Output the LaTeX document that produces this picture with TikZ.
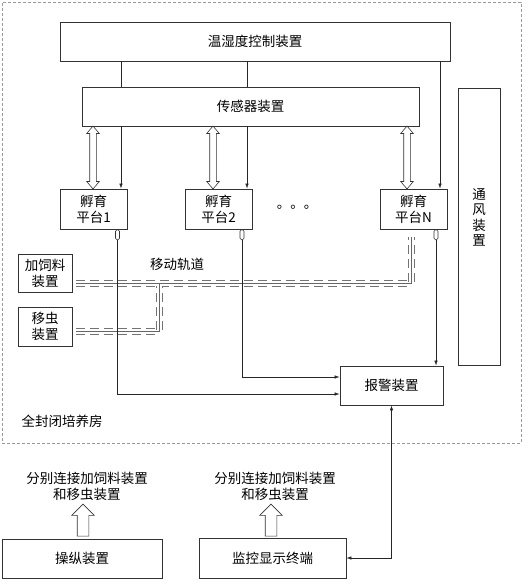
\documentclass[tikz,border=0pt]{standalone}
\usepackage{fontspec}
\newfontfamily\cjk{Noto Sans CJK SC}
\usetikzlibrary{shapes.arrows,arrows.meta,calc}
\begin{document}
\begin{tikzpicture}[x=1pt,y=-1pt,
  font=\cjk\fontsize{13.5pt}{16pt}\selectfont,
  box/.style={draw=black!80, line width=0.8pt, inner sep=0pt, align=center},
  conn/.style={draw=black!85, line width=0.6pt},
  tip/.style={-{Latex[length=5pt,width=3.5pt]}},
  stub/.style={draw=black!80, line width=0.6pt, minimum width=4pt, minimum height=10pt, inner sep=0pt, rounded corners=1.5pt},
  darrow/.style={shape=double arrow, draw=black!80, line width=0.6pt, rotate=90, inner xsep=0pt, inner ysep=3pt,
    double arrow head extend=3pt, double arrow tip angle=80, minimum height=63pt},
  uarrow/.style={shape=single arrow, draw=black!80, line width=0.6pt, rotate=90, inner xsep=0pt, inner ysep=5.5pt,
    single arrow head extend=5.5pt, single arrow tip angle=90, minimum height=32pt},
  trackrails/.style={draw=black!55, line width=1pt, dash pattern=on 9pt off 5pt, double=white, double distance=5pt},
  trackcore/.style={draw=black!60, line width=0.5pt},
  room/.style={draw=gray!80, line width=0.6pt, dash pattern=on 3pt off 2pt, inner sep=0pt}
]
\useasboundingbox (0,0) rectangle (529,581);

% enclosure
\node[room, minimum width=519pt, minimum height=441pt] (enc) at (261.5,222.5) {};
\node (enclabel) at (62,421) {全封闭培养房};

% main boxes
\node[box, minimum width=390pt, minimum height=39pt] (temp) at (255,41.5) {温湿度控制装置};
\node[box, minimum width=337pt, minimum height=39pt] (sensor) at (250.5,106.5) {传感器装置};
\node[box, minimum width=42pt, minimum height=277pt] (vent) at (479,226.5) {};
\node[align=center, inner sep=0pt, font=\cjk\fontsize{13.5pt}{15.5pt}\selectfont] (ventlabel) at ([yshift=9pt]vent.center) {通\\风\\装\\置};

\node[box, minimum width=67pt, minimum height=40pt] (p1) at (93.5,209) {孵育\\平台1};
\node[box, minimum width=67pt, minimum height=40pt] (p2) at (218.5,209) {孵育\\平台2};
\node[box, minimum width=67pt, minimum height=40pt] (pN) at (413.5,209) {孵育\\平台N};
\node (dots) at (297,207) {。。。};

\node[box, minimum width=54pt, minimum height=38pt] (feed) at (45,273) {加饲料\\装置};
\node[box, minimum width=54pt, minimum height=39pt] (insect) at (45,326.5) {移虫\\装置};
\node (tracklabel) at (177,264) {移动轨道};

\node[box, minimum width=103pt, minimum height=39pt] (alarm) at (391.5,385.5) {报警装置};

\node[box, minimum width=160pt, minimum height=39pt] (ctrl) at (82,558.5) {操纵装置};
\node[box, minimum width=147pt, minimum height=40pt] (term) at (272.5,558) {监控显示终端};
\node[align=center, inner sep=0pt] (lab1) at (87,486) {分别连接加饲料装置\\和移虫装置};
\node[align=center, inner sep=0pt] (lab2) at (275,486) {分别连接加饲料装置\\和移虫装置};
\node[uarrow] (ua1) at (83,523) {};
\node[uarrow] (ua2) at (271,523) {};

% tracks
\coordinate (ta) at ([xshift=4pt]feed.east |- 0,283);
\coordinate (tb) at (411,283);
\coordinate (tc) at (411,237);
\coordinate (ba) at ([xshift=4pt]insect.east |- 0,331);
\coordinate (bb) at (159,331);
\coordinate (bc) at (159,286);
\draw[trackrails] (ta) -- (tb) -- (tc);
\draw[trackrails] (ba) -- (bb) -- (bc);
\draw[trackcore] (ta) -- (tb) -- (tc);
\draw[trackcore] (ba) -- (bb) -- (159,283);

% stubs
\node[stub, anchor=north] (s1) at ([xshift=24pt]p1.south) {};
\node[stub, anchor=north] (s2) at ([xshift=23.5pt]p2.south) {};
\node[stub, anchor=north] (sN) at ([xshift=22.5pt]pN.south) {};

% control lines
\coordinate (c1) at (121,0);
\coordinate (c2) at (247,0);
\coordinate (c3) at (440,0);
\draw[conn] (temp.south -| c1) -- (sensor.north -| c1);
\draw[conn, tip] (sensor.south -| c1) -- (p1.north -| c1);
\draw[conn] (temp.south -| c2) -- (sensor.north -| c2);
\draw[conn, tip] (sensor.south -| c2) -- (p2.north -| c2);
\draw[conn, tip] (temp.south -| c3) -- (pN.north -| c3);

% sensor exchange
\node[darrow] (da1) at (93,157.5) {};
\node[darrow] (da2) at (213,157.5) {};
\node[darrow] (daN) at (407,157.5) {};

% to alarm
\draw[conn, tip] (s1.south) |- ([yshift=-8.5pt]alarm.west);
\draw[conn, tip] (s2.south) |- ([yshift=8.5pt]alarm.west);
\draw[conn, tip] (sN.south) -- (sN.south |- alarm.north);
\draw[conn, {Latex[length=5pt,width=3.5pt]}-{Latex[length=5pt,width=3.5pt]}] (alarm.south) |- (term.east);
\end{tikzpicture}
\end{document}
